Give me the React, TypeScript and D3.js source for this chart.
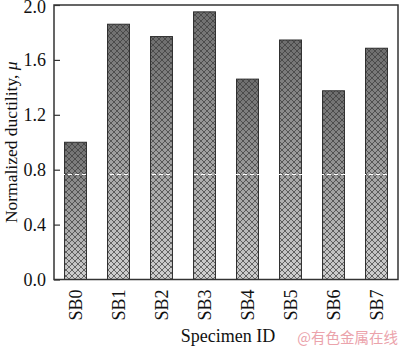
import React, { useRef, useEffect } from 'react'
import * as d3 from 'd3'

const specimens = ['SB0', 'SB1', 'SB2', 'SB3', 'SB4', 'SB5', 'SB6', 'SB7']
const ductility = [1.0, 1.86, 1.77, 1.95, 1.46, 1.745, 1.375, 1.685]
const yTicks = [0, 0.4, 0.8, 1.2, 1.6, 2.0]
const dashLevel = [0.765]

export default function App() {
  const ref = useRef<SVGSVGElement>(null)

  useEffect(() => {
    const el = ref.current
    if (!el) return
    const width = 400
    const height = 348
    const m = { left: 54, right: 2, top: 5, bottom: 68.5 }
    const svg = d3.select(el)
    svg.selectAll('*').remove()

    const font = '"Liberation Serif", "Times New Roman", serif'

    const defs = svg.append('defs')
    const grad = defs.append('linearGradient')
      .attr('id', 'barGrad').attr('x1', 0).attr('y1', 0).attr('x2', 0).attr('y2', 1)
    grad.append('stop').attr('offset', '0%').attr('stop-color', '#6e6e6e')
    grad.append('stop').attr('offset', '100%').attr('stop-color', '#cfcfcf')

    const pat = defs.append('pattern')
      .attr('id', 'hatch').attr('patternUnits', 'userSpaceOnUse')
      .attr('width', 6).attr('height', 6)
    pat.append('path').attr('d', 'M0,0 L6,6 M6,0 L0,6 M-1,5 L1,7 M5,-1 L7,1 M-1,1 L1,-1 M5,7 L7,5')
      .attr('stroke', '#3a3a3a').attr('stroke-width', 0.9).attr('stroke-opacity', 0.8)

    const x = d3.scaleBand().domain(specimens).range([m.left, width - m.right]).paddingInner(0.49).paddingOuter(0.245)
    const y = d3.scaleLinear().domain([0, 2]).range([height - m.bottom, m.top])

    svg.append('rect').attr('width', width).attr('height', height).attr('fill', '#fff')

    const bars = svg.append('g')
    specimens.forEach((s, i) => {
      const bx = x(s) as number
      const by = y(ductility[i])
      const bh = y(0) - by
      bars.append('rect').attr('x', bx).attr('y', by).attr('width', x.bandwidth()).attr('height', bh)
        .attr('fill', 'url(#barGrad)')
      bars.append('rect').attr('x', bx).attr('y', by).attr('width', x.bandwidth()).attr('height', bh)
        .attr('fill', 'url(#hatch)').attr('stroke', '#2e2e2e').attr('stroke-width', 1)
    })

    // white dashed line across bars
    svg.selectAll('line.dash').data(dashLevel).enter().append('line')
      .attr('x1', m.left).attr('x2', width - m.right)
      .attr('y1', d => y(d)).attr('y2', d => y(d))
      .attr('stroke', '#fff').attr('stroke-width', 1.2).attr('stroke-dasharray', '4,3')

    // frame
    svg.append('rect').attr('x', m.left).attr('y', m.top)
      .attr('width', width - m.left - m.right).attr('height', height - m.top - m.bottom)
      .attr('fill', 'none').attr('stroke', '#333').attr('stroke-width', 1.5)

    const yAxis = svg.append('g').attr('transform', `translate(${m.left},0)`)
      .call(d3.axisLeft(y).tickValues(yTicks).tickFormat(d3.format('.1f')).tickSizeInner(-6).tickSizeOuter(0).tickPadding(8))
    yAxis.select('.domain').remove()
    yAxis.selectAll('line').attr('stroke', '#333').attr('stroke-width', 1.2)
    yAxis.selectAll('text').attr('font-family', font).attr('font-size', 18).attr('fill', '#111')
      .attr('dy', (d: any) => (d === 2 ? '0.42em' : '0.32em'))

    const xAxis = svg.append('g').attr('transform', `translate(0,${y(0)})`)
      .call(d3.axisBottom(x).tickSize(0).tickPadding(0))
    xAxis.select('.domain').remove()
    xAxis.selectAll('text')
      .attr('font-family', font).attr('font-size', 18).attr('fill', '#111')
      .attr('transform', 'rotate(-90)').attr('text-anchor', 'end')
      .attr('x', -10).attr('y', 0).attr('dy', '0.35em')

    svg.append('text').attr('x', 228).attr('y', 342).attr('text-anchor', 'middle')
      .attr('font-family', font).attr('font-size', 18).attr('fill', '#111').text('Specimen ID')

    const yt = svg.append('text').attr('transform', `translate(17,${(m.top + y(0)) / 2}) rotate(-90)`)
      .attr('text-anchor', 'middle').attr('font-family', font).attr('font-size', 17.5).attr('fill', '#111')
    yt.append('tspan').text('Normalized ductility, ')
    yt.append('tspan').attr('font-style', 'italic').text('μ')

    svg.append('text').attr('x', 398).attr('y', 343).attr('text-anchor', 'end')
      .attr('font-family', '"Noto Sans CJK SC", sans-serif').attr('font-size', 14.5).attr('fill', '#eba3ab')
      .text('@有色金属在线')
  }, [])

  return (
    <div style={{ position: 'absolute', left: 0, top: 0 }}>
      <svg ref={ref} width={400} height={348} style={{ display: 'block' }} />
    </div>
  )
}
